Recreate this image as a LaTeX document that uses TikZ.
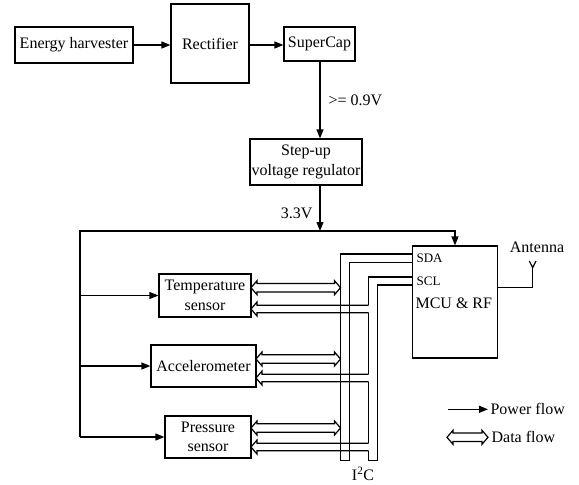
\documentclass[tikz,border=0pt]{standalone}
\usepackage{fontspec}
\setmainfont{Liberation Serif}
\usetikzlibrary{arrows.meta}
% #1 left x, #2 right x, #3 centre y (pixel coordinates, y downwards)
\newcommand\DataDbl[3]{%
  \draw (#1,#3) -- (#1+6,#3-7) -- (#1+6,#3-4.25) -- (#2-6,#3-4.25) -- (#2-6,#3-7)
    -- (#2,#3) -- (#2-6,#3+7) -- (#2-6,#3+4.25) -- (#1+6,#3+4.25) -- (#1+6,#3+7) -- cycle;}
\newcommand\DataLft[3]{%
  \draw (#2,#3-3.75) -- (#1+6,#3-3.75) -- (#1+6,#3-7) -- (#1,#3) -- (#1+6,#3+7)
    -- (#1+6,#3+3.75) -- (#2,#3+3.75);}
\begin{document}
\begin{tikzpicture}[x=1pt,y=-1pt, line width=1.2pt, line join=miter,
  box/.style={draw, inner sep=0pt, align=center, font=\fontsize{16}{19.5}\selectfont},
  pf/.style={-{Triangle[length=9pt,width=7pt]}},
  lbl/.style={inner sep=0pt, font=\fontsize{16}{19.5}\selectfont},
  small/.style={inner sep=0pt, font=\fontsize{13}{15}\selectfont}]
\useasboundingbox (0,0) rectangle (579,485);

% boxes
\node[box, minimum width=118pt, minimum height=36pt] (eh) at (74,45) {Energy harvester};
\node[box, minimum width=78pt, minimum height=79pt] (rect) at (210,43.5) {Rectifier};
\node[box, minimum width=71pt, minimum height=34pt] (sc) at (319.5,44) {SuperCap};
\node[box, minimum width=112pt, minimum height=46pt] (step) at (306,162) {Step-up\\voltage regulator};
\node[box, minimum width=92pt, minimum height=43pt] (temp) at (205,295.5) {Temperature\\sensor};
\node[box, minimum width=105pt, minimum height=42pt] (acc) at (203.5,366) {Accelerometer};
\node[box, minimum width=86pt, minimum height=42pt] (pres) at (208,437) {Pressure\\sensor};
\node[box, minimum width=85pt, minimum height=112pt] (mcu) at (455,302) {};

% power chain
\coordinate (v) at (320,0);
\coordinate (bus) at (320,231);
\coordinate (busL) at (80,231);
\draw[pf] (eh.east) -- (rect.west |- eh.east);
\draw[pf] (rect.east |- 0,45) -- (sc.west |- 0,45);
\draw[pf] (sc.south -| v) -- (step.north -| v)
  node[lbl, midway, anchor=west, xshift=8pt] {>= 0.9V};
\draw[pf] (step.south -| v) -- (bus)
  node[lbl, pos=0.6, anchor=east, xshift=-7pt] {3.3V};
\draw[pf] (busL |- pres.west) -- (busL) -| (mcu.north);
\draw[pf] (busL |- temp.west) -- (temp.west);
\draw[pf] (busL |- acc.west) -- (acc.west);
\draw[pf] (busL |- pres.west) -- (pres.west);

% I2C bus: SDA pipe
\draw (412.5,254) -- (340.5,254) -- (340.5,460.5) -- (349.5,460.5) -- (349.5,262.5) -- (412.5,262.5);
% SCL pipe
\draw (412.5,277) -- (368.5,277) -- (368.5,305.25);
\draw (368.5,312.75) -- (368.5,374.25);
\draw (368.5,381.75) -- (368.5,443.25);
\draw (368.5,450.75) -- (368.5,460.5) -- (377.5,460.5) -- (377.5,285) -- (412.5,285);

% data arrows
\DataDbl{251}{340.5}{287.7}
\DataDbl{256}{340.5}{359}
\DataDbl{251}{340.5}{428}
\DataLft{251}{368.5}{309}
\DataLft{256}{368.5}{378}
\DataLft{251}{368.5}{447}

% MCU labels
\node[small, anchor=west] (sda) at (416,258) {SDA};
\node[small, anchor=west] (scl) at (416,281.5) {SCL};
\node[lbl, anchor=west] (mcut) at (415,303) {MCU \& RF};
\node[lbl] (i2c) at (363,474) {I\textsuperscript{2}C};

% antenna
\coordinate (ant) at (532.7,267.7);
\draw (mcu.east |- 0,287.7) -| (ant);
\draw (529.3,261) -- (ant) -- (536,261);
\node[lbl] (antl) at (537,247) {Antenna};

% legend
\coordinate (pf1) at (448,409.3);
\coordinate (pf2) at (488,409.3);
\draw[pf] (pf1) -- (pf2) node[lbl, anchor=west, xshift=2pt] {Power flow};
\DataDbl{447}{488}{437.3}
\node[lbl, anchor=west] (dfl) at (491,437.3) {Data flow};
\end{tikzpicture}
\end{document}
